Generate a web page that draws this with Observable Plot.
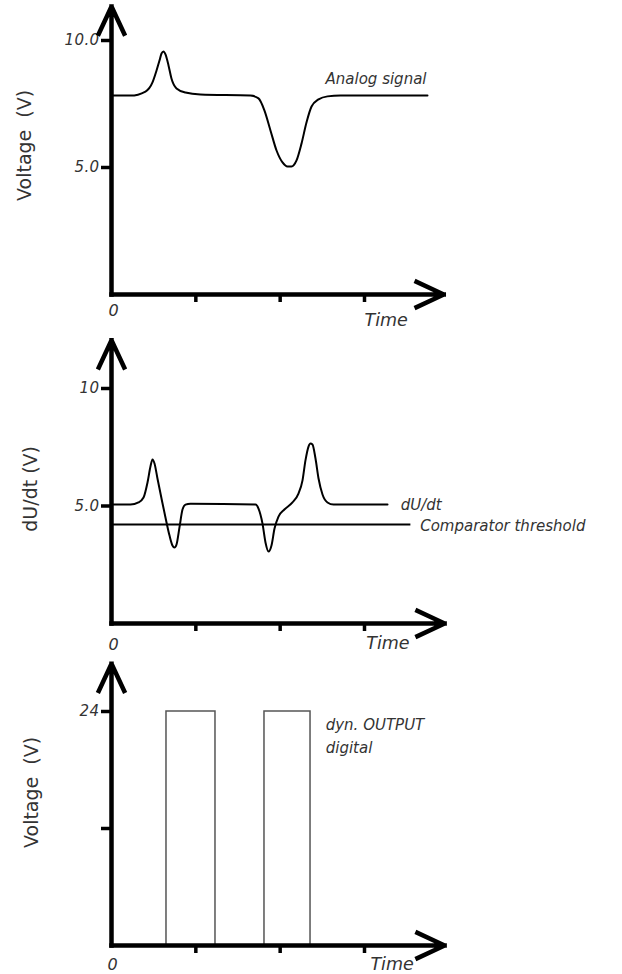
<!DOCTYPE html>
<html><head><meta charset="utf-8">
<script src="https://cdn.jsdelivr.net/npm/d3@7"></script>
<script src="https://cdn.jsdelivr.net/npm/@observablehq/plot@0.6"></script>
<style>
body{margin:0;background:#fff;}
#chart svg{display:block;overflow:visible;}
[aria-label="ylabel"] text{letter-spacing:1.6px;}
[aria-label="note"] text{letter-spacing:0.9px;}
[aria-label="timelabel"] text{letter-spacing:1.5px;}
[aria-label="y-axis tick label"], [aria-label="y-axis tick label"] text{font-style:italic;letter-spacing:0.4px;font-size:15px;}
</style></head><body><div id="chart"></div>
<script>
// ---------- data ----------
const xTicks = [1, 2, 3];

// Panel 1: analog signal
const analogTime = [0,0.225,0.403,0.486,0.534,0.569,0.593,0.617,0.64,0.676,0.711,0.771,0.877,1.055,1.648,1.743,1.814,1.885,1.957,2.028,2.087,2.134,2.194,2.253,2.312,2.372,2.455,2.561,2.715,3.747];
const analogVolt = [7.83,7.83,7.99,8.35,8.82,9.21,9.49,9.57,9.45,9.02,8.5,8.11,7.95,7.87,7.83,7.72,7.24,6.46,5.67,5.2,5.04,5.04,5.28,5.94,6.77,7.4,7.68,7.8,7.83,7.83];
const yTicks1 = [5, 10];
const yTickLabels1 = ["5.0", "10.0"];

// Panel 2: derivative and comparator threshold
const dudtTime = [0,0.225,0.32,0.38,0.427,0.462,0.486,0.51,0.545,0.593,0.64,0.688,0.723,0.747,0.771,0.806,0.842,0.877,0.937,1.708,1.743,1.79,1.826,1.862,1.897,1.933,1.98,2.05,2.146,2.217,2.265,2.3,2.336,2.36,2.383,2.419,2.455,2.502,2.561,2.633,3.273];
const dudtVolt = [5.06,5.06,5.15,5.36,6.0,6.68,6.98,6.81,6.17,5.32,4.51,3.74,3.32,3.23,3.36,4.09,4.85,5.06,5.1,5.06,4.89,4.26,3.45,3.06,3.32,4.04,4.55,4.85,5.15,5.53,6.09,6.94,7.53,7.66,7.62,7.02,6.17,5.49,5.15,5.06,5.06];
const thresholdLevel = 4.21;
const thresholdEnd = 3.55;
const yTicks2 = [5, 10];
const yTickLabels2 = ["5.0", "10"];

// Panel 3: digital output pulses
const pulseStart = [0.652, 1.814];
const pulseEnd = [1.233, 2.36];
const pulseLevel = 24;
const yTicks3 = [12, 24];
const yTickLabels3 = ["", "24"];

// annotation anchors (data units)
const notes1 = [{t: 2.538, v: 8.46, s: "Analog signal"}];
const notes2 = [{t: 3.43, v: 5.04, s: "dU/dt"}, {t: 3.66, v: 4.15, s: "Comparator threshold"}];
const notes3 = [{t: 2.54, v: 22.56, s: "dyn. OUTPUT"}, {t: 2.54, v: 20.2, s: "digital"}];

// ---------- helpers ----------
const FONT = "DejaVu Sans";
const INK = "#333";

function panel(cfg) {
  const {height, y0, yTop, yMax, yTicks, yTickLabels, arrowTop, arrowRight,
         yLabel, yLabelPos, zeroPos, timePos, marks} = cfg;
  const arrowStyle = {strokeWidth: 4.5, headLength: 10, headAngle: 50, stroke: "black",
                      strokeLinecap: "square", strokeLinejoin: "miter"};
  return Plot.plot({
    width: 622,
    height,
    marginLeft: 111,
    marginRight: 258,
    marginTop: yTop,
    marginBottom: height - y0,
    x: {domain: [0, 3], range: [111, 364]},
    y: {domain: [0, yMax], range: [y0, yTop]},
    style: {fontFamily: FONT, background: "white", overflow: "visible"},
    marks: [
      ...marks,
      Plot.axisX({ticks: xTicks, tickSize: 8, tickFormat: () => "", stroke: "black", strokeWidth: 3.5, label: null}),
      Plot.axisY({ticks: yTicks, tickSize: 10, tickPadding: 2, tickFormat: d => yTickLabels[yTicks.indexOf(d)],
                  stroke: "black", fill: INK, strokeWidth: 3.5, fontSize: 15, fontStyle: "italic", label: null}),
      Plot.arrow([{a: 0, b: 0, c: 0, d: arrowTop}], {x1: "a", y1: "b", x2: "c", y2: "d", ...arrowStyle}),
      Plot.arrow([{a: 0, b: 0, c: arrowRight, d: 0}], {x1: "a", y1: "b", x2: "c", y2: "d", ...arrowStyle}),
      Plot.text([yLabel], {x: yLabelPos[0], y: yLabelPos[1], text: d => d, rotate: -90, fontSize: 19,
                  fill: INK, textAnchor: "middle", ariaLabel: "ylabel"}),
      Plot.text(["0"], {x: zeroPos[0], y: zeroPos[1], text: d => d, fontSize: 16, fontStyle: "italic", fill: INK}),
      Plot.text(["Time"], {x: timePos[0], y: timePos[1], text: d => d, fontSize: 17.5, fontStyle: "italic",
                  fill: INK, textAnchor: "start", ariaLabel: "timelabel"})
    ]
  });
}

function notes(arr) {
  return Plot.text(arr, {x: "t", y: "v", text: "s", textAnchor: "start", fontSize: 15,
                         fontStyle: "italic", fill: INK, ariaLabel: "note"});
}

const analog = analogTime.map((t, i) => ({t, v: analogVolt[i]}));
const dudt = dudtTime.map((t, i) => ({t, v: dudtVolt[i]}));
const pulses = pulseStart.map((s, i) => ({s, e: pulseEnd[i], v: pulseLevel}));

const chart = document.getElementById("chart");

chart.append(panel({
  height: 335, y0: 294, yTop: 40, yMax: 10, yTicks: yTicks1, yTickLabels: yTickLabels1,
  arrowTop: 11.34, arrowRight: 3.94,
  yLabel: "Voltage  (V)", yLabelPos: [-1.03, 5.87], zeroPos: [0.024, -0.63], timePos: [3.0, -1.02],
  marks: [
    Plot.line(analog, {x: "t", y: "v", curve: "monotone-x", stroke: "black", strokeWidth: 2}),
    notes(notes1)
  ]
}));

chart.append(panel({
  height: 320, y0: 288, yTop: 53, yMax: 10, yTicks: yTicks2, yTickLabels: yTickLabels2,
  arrowTop: 12.05, arrowRight: 3.95,
  yLabel: "dU/dt (V)", yLabelPos: [-0.95, 5.73], zeroPos: [0.024, -0.9], timePos: [3.02, -0.85],
  marks: [
    Plot.ruleY([thresholdLevel], {x1: 0, x2: thresholdEnd, stroke: "black", strokeWidth: 2}),
    Plot.line(dudt, {x: "t", y: "v", curve: "monotone-x", stroke: "black", strokeWidth: 2}),
    notes(notes2)
  ]
}));

chart.append(panel({
  height: 319, y0: 290, yTop: 56, yMax: 24, yTicks: yTicks3, yTickLabels: yTickLabels3,
  arrowTop: 28.9, arrowRight: 3.95,
  yLabel: "Voltage  (V)", yLabelPos: [-0.94, 15.7], zeroPos: [0.012, -1.95], timePos: [3.07, -1.95],
  marks: [
    Plot.rect(pulses, {x1: "s", x2: "e", y1: 0, y2: "v", fill: "none", stroke: "#555", strokeWidth: 1.5}),
    notes(notes3)
  ]
}));
</script></body></html>
